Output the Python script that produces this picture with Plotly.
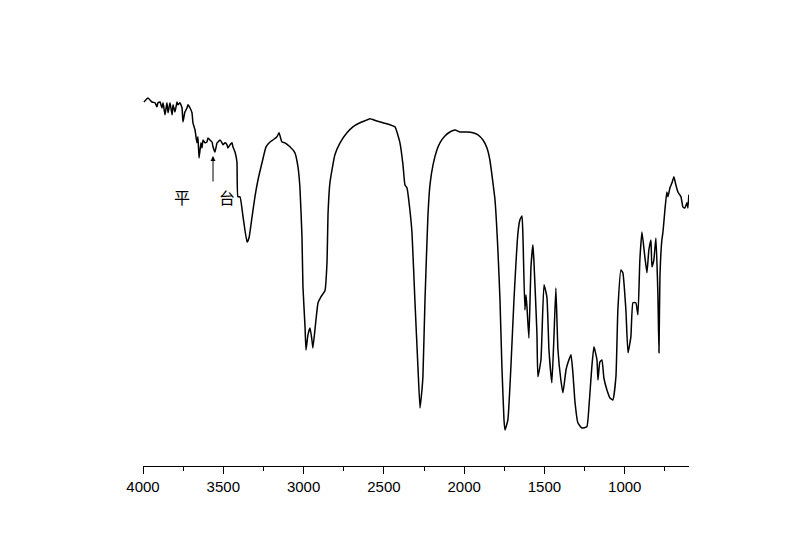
import plotly.graph_objects as go

# Wavenumber (cm-1) and transmittance (arbitrary %)
wavenumber = [
    3994, 3969, 3944, 3925, 3913, 3907, 3894, 3882, 3875, 3863, 3851, 3844, 3832, 3819, 3813,
    3801, 3788, 3782, 3770, 3757, 3751, 3739, 3726, 3720, 3707, 3695, 3689, 3676, 3670, 3664,
    3658, 3651, 3639, 3633, 3626, 3614, 3602, 3595, 3583, 3570, 3564, 3552, 3539, 3533, 3521,
    3508, 3502, 3489, 3477, 3471, 3458, 3446, 3440, 3427, 3415, 3409,
    3396, 3377, 3352, 3340, 3321, 3303, 3284, 3259, 3234, 3209, 3191, 3166, 3153, 3135, 3116,
    3085, 3054, 3035, 3023, 3010, 3004, 2991, 2985, 2973, 2960, 2948, 2942, 2923, 2910, 2892,
    2867, 2854, 2848, 2836, 2805, 2773, 2730, 2693, 2649, 2618, 2587, 2549, 2506, 2462, 2431,
    2400, 2381, 2369, 2356, 2338, 2325, 2307, 2288, 2275, 2263, 2257, 2244, 2226, 2213, 2194,
    2170, 2151, 2120, 2089, 2057, 2026, 1983, 1945, 1914, 1883, 1858, 1840, 1808, 1790, 1777,
    1765, 1752, 1746, 1728, 1709, 1690, 1665, 1653, 1640, 1634, 1622, 1615, 1609, 1597, 1584,
    1572, 1566, 1547, 1541, 1522, 1503, 1485, 1472, 1454, 1441, 1429, 1416, 1398, 1385, 1366,
    1354, 1335, 1323, 1310, 1292, 1267, 1236, 1223, 1205, 1192, 1173, 1167, 1155, 1142, 1130,
    1111, 1092, 1074, 1055, 1043, 1024, 1012, 993, 980, 962, 949, 931, 918, 906, 893,
    875, 862, 850, 837, 831, 819, 806, 794, 787, 781, 769, 762, 750, 738, 731,
    719, 706, 694, 682, 669, 650, 638, 626, 613, 607, 601,
]
transmittance = [
    91.0, 92.0, 91.0, 90.8, 89.8, 90.8, 91.0, 89.5, 90.8, 87.8, 90.8, 88.3, 90.8, 87.8, 90.3,
    88.5, 91.0, 90.3, 90.8, 89.5, 86.0, 88.5, 89.5, 90.3, 89.5, 88.3, 85.8, 84.0, 82.3, 80.8,
    82.3, 77.0, 80.8, 79.5, 81.5, 80.8, 81.0, 82.0, 81.5, 81.0, 79.8, 78.5, 80.8, 81.0, 81.5,
    80.8, 80.3, 80.8, 80.3, 79.5, 80.3, 80.8, 79.8, 78.5, 76.0, 67.3,
    67.3, 62.3, 56.0, 57.0, 62.3, 67.3, 71.5, 75.8, 79.8, 81.0, 81.5, 82.3, 83.3, 81.0, 80.8,
    79.8, 78.3, 74.8, 69.8, 57.3, 44.8, 34.8, 29.0, 32.8, 34.5, 31.5, 29.5, 36.5, 40.8, 42.3,
    43.8, 51.0, 62.8, 70.8, 77.8, 80.8, 83.3, 84.8, 85.8, 86.3, 86.8, 86.3, 85.8, 85.3, 84.8,
    80.8, 75.3, 70.3, 69.5, 64.0, 58.3, 41.5, 24.8, 14.5, 19.0, 22.3, 41.5, 62.3, 70.3, 75.3,
    79.0, 80.8, 82.5, 83.5, 84.0, 83.5, 83.5, 83.3, 82.8, 81.5, 79.5, 76.5, 66.5, 54.0, 41.5,
    24.8, 11.5, 9.0, 11.5, 24.8, 41.5, 58.3, 61.5, 62.5, 57.3, 39.0, 42.8, 39.8, 32.0, 49.8,
    55.3, 51.5, 33.3, 22.3, 26.5, 45.3, 42.3, 29.0, 20.8, 32.3, 44.5, 29.0, 21.5, 18.3, 24.0,
    25.8, 27.8, 23.3, 16.0, 10.8, 9.5, 9.8, 14.8, 24.8, 29.8, 26.5, 21.5, 26.0, 26.5, 22.0,
    19.0, 17.0, 16.5, 22.3, 39.0, 49.0, 48.3, 39.0, 28.3, 32.3, 40.8, 40.8, 37.8, 51.5, 58.5,
    52.3, 48.3, 54.0, 56.5, 49.8, 51.5, 57.0, 43.3, 28.3, 47.3, 56.5, 58.5, 64.0, 68.5, 67.3,
    69.5, 70.8, 72.3, 70.3, 68.5, 67.3, 64.8, 64.5, 65.8, 64.5, 67.8,
]

x_tick_vals = [4000, 3500, 3000, 2500, 2000, 1500, 1000]
x_tick_text = ["4000", "3500", "3000", "2500", "2000", "1500", "1000"]

label_texts = ["平", "台"]
label_x = [3757, 3477]
label_y = [67.3, 67.3]
arrow_x = 3564
arrow_y = 77.5

fig = go.Figure()
fig.add_trace(go.Scatter(
    x=wavenumber, y=transmittance, mode="lines",
    line=dict(color="black", width=1.5, shape="spline", smoothing=0.4),
    showlegend=False, hoverinfo="skip",
))

annotations = []
for t, xx, yy in zip(label_texts, label_x, label_y):
    annotations.append(dict(
        x=xx, y=yy, xref="x", yref="y", text=t, showarrow=False,
        font=dict(family="Noto Sans CJK SC", size=16, color="black"),
    ))
annotations.append(dict(
    x=arrow_x, y=arrow_y, xref="x", yref="y", text="", showarrow=True,
    ax=0, ay=27, arrowhead=2, arrowsize=1, arrowwidth=1, arrowcolor="black",
))

fig.update_layout(
    width=800, height=558,
    margin=dict(l=135, r=119, t=58, b=100),
    paper_bgcolor="white", plot_bgcolor="white",
    annotations=annotations,
    xaxis=dict(
        range=[4000, 600],
        tickvals=x_tick_vals, ticktext=x_tick_text,
        ticks="outside", ticklen=7, tickwidth=1.2, tickcolor="black",
        showline=True, linecolor="black", linewidth=1.3,
        showgrid=False, zeroline=False,
        tickfont=dict(family="Liberation Sans, Arial", size=15, color="black"),
        minor=dict(dtick=250, tick0=0, ticks="outside", ticklen=4, tickwidth=1.2, tickcolor="black", showgrid=False),
    ),
    yaxis=dict(
        range=[0, 100], visible=False, showgrid=False, zeroline=False,
    ),
)

fig.write_html("out.html")
